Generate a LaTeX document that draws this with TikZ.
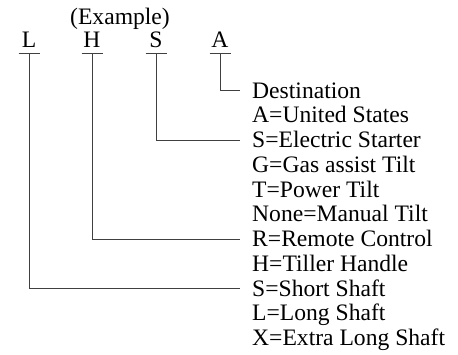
\documentclass[tikz,border=0pt]{standalone}
\usepackage{fontspec}
\setmainfont{Liberation Serif}
\begin{document}
\begin{tikzpicture}[x=1pt,y=-1pt,
  every node/.style={font=\fontsize{23.6}{24.75}\selectfont, inner sep=0pt},
  lbl/.style={anchor=base west},
  code/.style={anchor=base},
  conn/.style={draw=black!75, line width=0.9pt}]
\useasboundingbox (0,0) rectangle (458,354);
\node[code] (hdr) at (120,24) {(Example)};
\node[code] (cL) at (29,47) {L};
\node[code] (cH) at (92,47) {H};
\node[code] (cS) at (156,47) {S};
\node[code] (cA) at (220,47) {A};
\coordinate (bL) at (29,53);
\coordinate (bH) at (92,53);
\coordinate (bS) at (156,53);
\coordinate (bA) at (220,53);
\foreach \b in {bL,bH,bS,bA}
  \draw[conn] ([xshift=-10.5pt]\b) -- ([xshift=10.5pt]\b);
\node[lbl] (t0) at (252,98) {Destination};
\node[lbl] (t1) at (252,122.75) {A=United States};
\node[lbl] (t2) at (252,147.5) {S=Electric Starter};
\node[lbl] (t3) at (252,172.25) {G=Gas assist Tilt};
\node[lbl] (t4) at (252,197) {T=Power Tilt};
\node[lbl] (t5) at (252,221.75) {None=Manual Tilt};
\node[lbl] (t6) at (252,246.5) {R=Remote Control};
\node[lbl] (t7) at (252,271.25) {H=Tiller Handle};
\node[lbl] (t8) at (252,296) {S=Short Shaft};
\node[lbl] (t9) at (252,320.75) {L=Long Shaft};
\node[lbl] (t10) at (252,345.5) {X=Extra Long Shaft};
\draw[conn] (bA) |- ([xshift=-12pt,yshift=8pt]t0.base west);
\draw[conn] (bS) |- ([xshift=-12pt,yshift=7.5pt]t2.base west);
\draw[conn] (bH) |- ([xshift=-12pt,yshift=7.5pt]t6.base west);
\draw[conn] (bL) |- ([xshift=-12pt,yshift=7.5pt]t8.base west);
\end{tikzpicture}
\end{document}
